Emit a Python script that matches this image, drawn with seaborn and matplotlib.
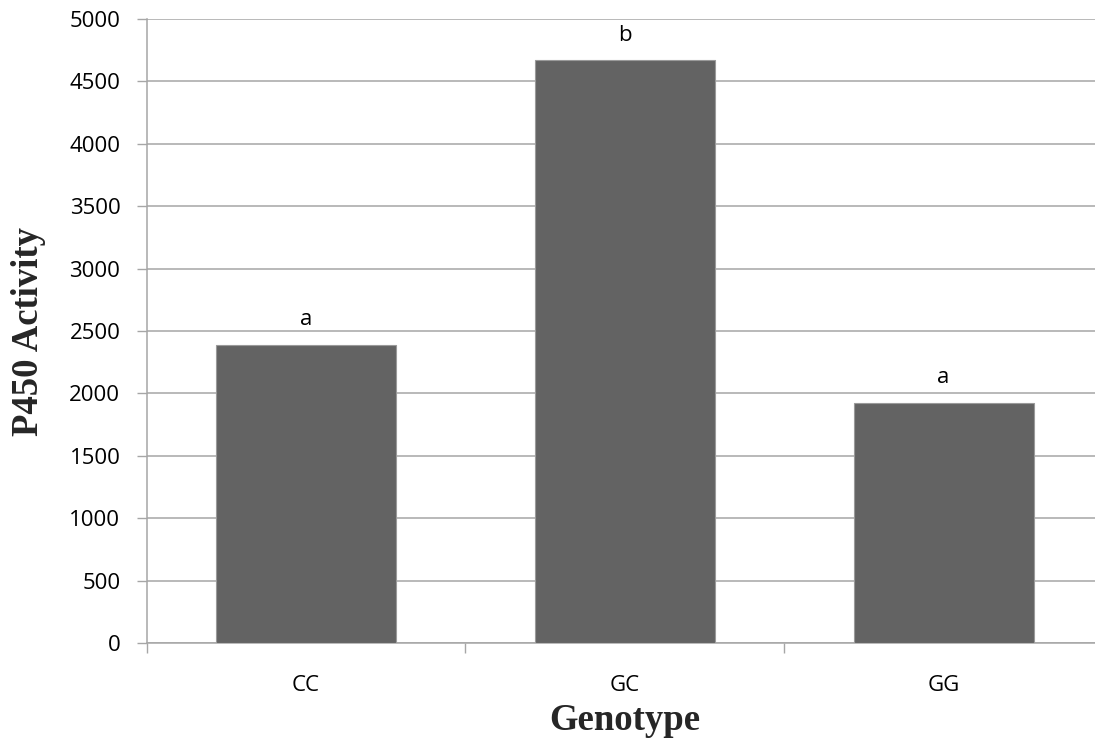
import matplotlib
matplotlib.use("Agg")
import matplotlib.pyplot as plt
import pandas as pd
import seaborn as sns
from matplotlib.ticker import FixedLocator, MultipleLocator

# values
genotypes = ["CC", "GC", "GG"]
activity = [2390, 4670, 1925]
letters = ["a", "b", "a"]

BAR_COLOR = "#636363"
GRID_COLOR = "#a6a6a6"
TICK_FONT = "Open Sans"
LABEL_FONT = "Liberation Serif"
TICK_SIZE = 16

sns.set_style("white")
plt.rcParams["font.family"] = [TICK_FONT, "DejaVu Sans"]

df = pd.DataFrame({"genotype": genotypes, "activity": activity})

fig = plt.figure(figsize=(10.95, 7.42), dpi=100)
# Excel-style plot area: right edge runs slightly past the image border
ax = fig.add_axes([0.134, 0.1334, 0.8733, 0.8410])

sns.barplot(
    data=df, x="genotype", y="activity",
    color=BAR_COLOR, saturation=1, width=0.565,
    edgecolor="#9a9a9a", linewidth=0.8,
    errorbar=None, ax=ax, zorder=3,
)

for i, (val, let) in enumerate(zip(activity, letters)):
    ax.annotate(let, xy=(i, val), xytext=(0, 14), textcoords="offset points",
                ha="center", va="baseline", fontsize=TICK_SIZE, color="black")

ax.set_xlim(-0.5, 2.5)
ax.set_ylim(0, 5000)
ax.yaxis.set_major_locator(MultipleLocator(500))
ax.grid(axis="y", color=GRID_COLOR, linewidth=1.1, zorder=0)
ax.set_axisbelow(True)

# category labels centred, tick marks on the category boundaries
ax.tick_params(axis="x", which="major", length=0, pad=23, labelsize=TICK_SIZE,
               labelcolor="black")
ax.xaxis.set_minor_locator(FixedLocator([-0.5, 0.5, 1.5, 2.5]))
ax.tick_params(axis="x", which="minor", length=7, width=1, color=GRID_COLOR,
               direction="out", bottom=True)
ax.tick_params(axis="y", length=7, width=1, color=GRID_COLOR, direction="out",
               pad=12, labelsize=TICK_SIZE, labelcolor="black", left=True)

for side in ["top", "right"]:
    ax.spines[side].set_visible(False)
for side in ["left", "bottom"]:
    ax.spines[side].set_color(GRID_COLOR)
    ax.spines[side].set_linewidth(1.1)

ax.set_xlabel("Genotype", family=LABEL_FONT, fontweight="bold", fontsize=26.5)
ax.set_ylabel("P450 Activity", family=LABEL_FONT, fontweight="bold", fontsize=26.5)
ax.xaxis.label.set_va("center")
ax.yaxis.label.set_va("center")
ax.xaxis.set_label_coords(0.5, -0.124)
ax.yaxis.set_label_coords(-0.124, 0.5)

fig.savefig("out.png", dpi=100)
plt.close(fig)
